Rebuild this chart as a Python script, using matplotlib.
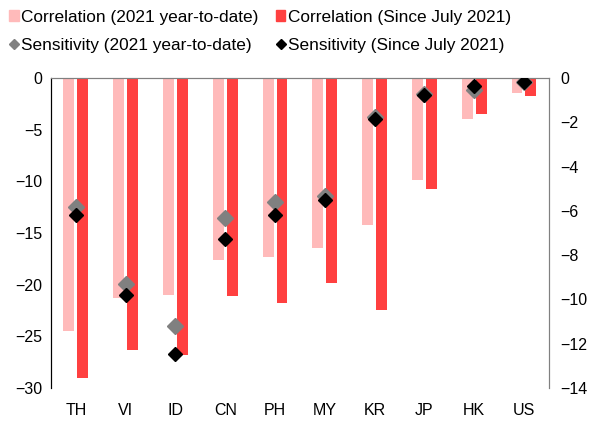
import numpy as np
import matplotlib
matplotlib.use('Agg')
import matplotlib.pyplot as plt
from matplotlib.lines import Line2D
from matplotlib.patches import Patch

plt.rcParams['font.family'] = ['Liberation Sans', 'DejaVu Sans']

# Данные
countries = ['TH', 'VI', 'ID', 'CN', 'PH', 'MY', 'KR', 'JP', 'HK', 'US']
corr_ytd = [-24.5, -21.3, -21.0, -17.6, -17.3, -16.4, -14.2, -9.9, -3.9, -1.4]
corr_july = [-29.0, -26.3, -26.8, -21.1, -21.8, -19.8, -22.4, -10.7, -3.5, -1.7]
sens_ytd = [-5.8, -9.3, -11.2, -6.3, -5.6, -5.3, -1.75, -0.7, -0.55, -0.15]
sens_july = [-6.2, -9.8, -12.45, -7.25, -6.2, -5.5, -1.85, -0.75, -0.35, -0.15]

light = '#ffbaba'
dark = '#ff4040'

fig = plt.figure(figsize=(5.92, 4.22), dpi=100)
ax = fig.add_axes([0.0861, 0.0806, 0.841, 0.734])
x = np.arange(len(countries))
w = 0.22

ax.bar(x - 0.14, corr_ytd, width=w, color=light)
ax.bar(x + 0.14, corr_july, width=w, color=dark)
ax.set_ylim(-30, 0)
ax.set_xlim(-0.5, len(countries) - 0.5)
ax.set_yticks(np.arange(-30, 1, 5))
ax.set_xticks(x)
ax.set_xticklabels(countries)
ax.tick_params(axis='both', length=0, labelsize=11.5, pad=6)
ax.tick_params(axis='x', pad=11)

ax2 = ax.twinx()
ax2.plot(x, sens_ytd, 'D', color='#808080', markersize=8, zorder=3)
ax2.plot(x, sens_july, 'D', color='black', markersize=7.5, zorder=4)
ax2.set_ylim(-14, 0)
ax2.set_yticks(np.arange(-14, 1, 2))
ax2.tick_params(axis='y', length=0, labelsize=11.5, pad=8)

for a in (ax, ax2):
    a.spines['bottom'].set_visible(False)
    a.spines['top'].set_color('#808080')
    a.spines['left'].set_color('black')
    a.spines['right'].set_color('#808080')

# Легенда
handles = [
    Patch(color=light, label='Correlation (2021 year-to-date)'),
    Line2D([], [], marker='D', ls='', color='#808080', markersize=5,
           label='Sensitivity (2021 year-to-date)'),
    Patch(color=dark, label='Correlation (Since July 2021)'),
    Line2D([], [], marker='D', ls='', color='black', markersize=5,
           label='Sensitivity (Since July 2021)'),
]
fig.legend(handles=handles, ncol=2, loc='upper left', bbox_to_anchor=(0.01, 0.985),
           frameon=False, fontsize=12.4, handlelength=0.55, handleheight=0.55,
           handletextpad=0.15, columnspacing=1.0, labelspacing=0.75,
           borderaxespad=0.0, borderpad=0.2)

fig.savefig('out.png', dpi=100)
